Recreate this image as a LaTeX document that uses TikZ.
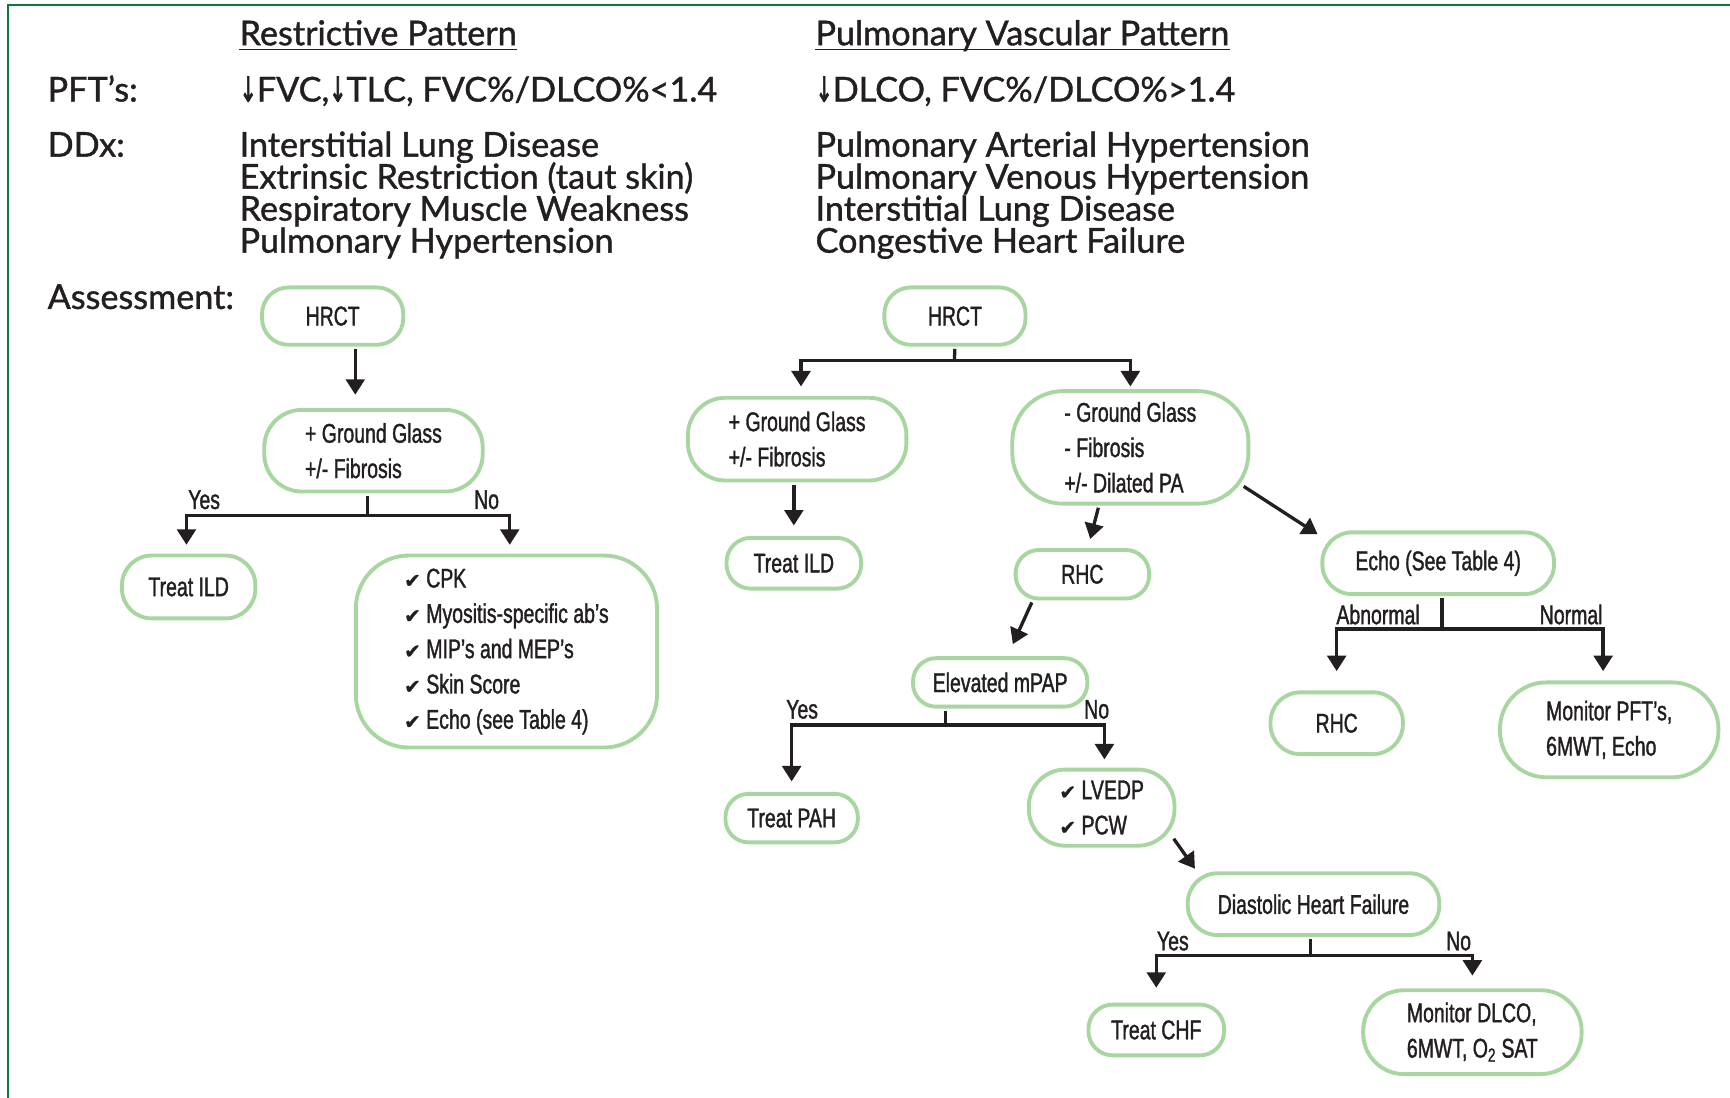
\documentclass[tikz,border=0pt]{standalone}
\usepackage{fontspec}
\setmainfont{Lato}[FakeBold=1.1]
\newfontfamily\condf{Liberation Sans}[FakeStretch=0.72,FakeBold=1.3]
\newfontfamily\djvb{DejaVu Sans}[FakeBold=1.5]
\newfontfamily\djva{DejaVu Sans}[FakeBold=3]
\usetikzlibrary{arrows.meta,calc}
\definecolor{boxgreen}{RGB}{168,214,160}
\definecolor{framegreen}{RGB}{12,122,60}
\definecolor{ink}{RGB}{35,31,32}
\newcommand\mychk{{\djvb\fontsize{18}{18}\selectfont ✔}\hspace{5pt}}
\newcommand\dnarr{\scalebox{0.6}[1]{\djva ↓}}
\tikzset{
  box/.style={draw=boxgreen, fill=white, line width=3.5pt, rounded corners=#1,
    font=\condf\fontsize{24.5}{32}\selectfont, text=ink, align=left, inner sep=0pt},
  box/.default=24pt,
  hd/.style={font=\fontsize{31}{29}\selectfont, text=ink, inner sep=0pt, anchor=base west},
  lbl/.style={font=\condf\fontsize{24.5}{24}\selectfont, text=ink, inner sep=0pt},
  ln/.style={draw=ink, line width=3pt},
  arr/.style={draw=ink, line width=3pt, -{Triangle[width=17pt,length=14pt]}},
  uline/.style={draw=ink, line width=1.5pt},
  frame/.style={draw=framegreen, line width=2.4pt}
}
\begin{document}
\begin{tikzpicture}[x=1pt,y=-1pt]
\useasboundingbox (0,0) rectangle (1568,995);
\fill[white] (0,0) rectangle (1568,995);
\draw[frame] (7.3,995) -- (7.3,4.5) -- (1568,4.5);

% headers
\node[hd] (tRes) at (217,41) {Restrictive Pattern};
\node[hd] (tPul) at (739,41) {Pulmonary Vascular Pattern};
\draw[uline] ([yshift=-4pt]tRes.base west) -- ([yshift=-4pt]tRes.base east);
\draw[uline] ([yshift=-4pt]tPul.base west) -- ([yshift=-4pt]tPul.base east);
\node[hd] (pft) at (43,92) {PFT’s:};
\node[hd] (pftL) at (217,92) {\dnarr FVC,\dnarr TLC, FVC\%/DLCO\%<1.4};
\node[hd] (pftR) at (739,92) {\dnarr DLCO, FVC\%/DLCO\%>1.4};
\node[hd] (ddx) at (43,142) {DDx:};
\node[hd] (dl1) at (217,142) {Interstitial Lung Disease};
\node[hd] (dl2) at (217,171) {Extrinsic Restriction (taut skin)};
\node[hd] (dl3) at (217,200) {Respiratory Muscle Weakness};
\node[hd] (dl4) at (217,229) {Pulmonary Hypertension};
\node[hd] (dr1) at (739,142) {Pulmonary Arterial Hypertension};
\node[hd] (dr2) at (739,171) {Pulmonary Venous Hypertension};
\node[hd] (dr3) at (739,200) {Interstitial Lung Disease};
\node[hd] (dr4) at (739,229) {Congestive Heart Failure};
\node[hd] (asm) at (43,280) {Assessment:};

% left tree
\node[box=24pt, minimum width=128pt, minimum height=52pt] (hrctL) at (301.5,286.5) {HRCT};
\node[box=34pt, minimum width=198pt, minimum height=74pt] (ggL) at (338.5,408.5) {+ Ground Glass\\+/- Fibrosis};
\node[box=27pt, minimum width=121pt, minimum height=57pt] (ildL) at (171,532) {Treat ILD};
\node[box=48pt, minimum width=273pt, minimum height=174pt] (chkL) at (459,590.5)
  {\mychk CPK\\\mychk Myositis-specific ab’s\\\mychk MIP’s and MEP’s\\\mychk Skin Score\\\mychk Echo (see Table 4)};

\draw[arr, shorten <=2pt, shorten >=12pt] ([xshift=20.5pt]hrctL.south) -- ([xshift=20.5pt]hrctL.south |- ggL.north);
\coordinate (bL) at (333,467);
\draw[ln, shorten <=2pt] (ggL.south -| bL) -- (bL);
\draw[arr, shorten >=8pt] (bL) -| ([xshift=-2pt]ildL.north);
\draw[arr, shorten >=8pt] (bL) -| ([xshift=3pt]chkL.north);
\node[lbl] (yL) at (185,453) {Yes};
\node[lbl] (nL) at (441,453) {No};

% right tree
\node[box=24pt, minimum width=128pt, minimum height=52pt] (hrctR) at (865.5,286.5) {HRCT};
\node[box=34pt, minimum width=198pt, minimum height=75pt] (ggR) at (722.5,398) {+ Ground Glass\\+/- Fibrosis};
\node[box=22pt, minimum width=122pt, minimum height=46pt] (ildR) at (719.5,510.5) {Treat ILD};
\node[box=46pt, minimum width=214pt, minimum height=102pt] (ngg) at (1024.5,405.5) {- Ground Glass\\- Fibrosis\\+/- Dilated PA};
\node[box=21pt, minimum width=121pt, minimum height=44pt] (rhc1) at (981,520.5) {RHC};
\node[box=27pt, minimum width=210pt, minimum height=56pt] (echo) at (1303.5,510.5) {Echo (See Table 4)};
\node[box=27pt, minimum width=120pt, minimum height=56pt] (rhc2) at (1211.5,655.5) {RHC};
\node[box=42pt, minimum width=198pt, minimum height=86pt] (monP) at (1458.5,661.5) {Monitor PFT’s,\\6MWT, Echo};
\node[box=21pt, minimum width=158pt, minimum height=44pt] (mpap) at (906.5,618.5) {Elevated mPAP};
\node[box=21pt, minimum width=120pt, minimum height=44pt] (pah) at (717.5,741.5) {Treat PAH};
\node[box=33pt, minimum width=132pt, minimum height=69pt] (lvedp) at (998.5,732) {\mychk LVEDP\\\mychk PCW};
\node[box=27pt, minimum width=228pt, minimum height=56pt] (dhf) at (1190.5,819.5) {Diastolic Heart Failure};
\node[box=22pt, minimum width=123pt, minimum height=46pt] (chf) at (1048,933.5) {Treat CHF};
\node[box=37pt, minimum width=198pt, minimum height=76pt] (monD) at (1334.5,935.5) {Monitor DLCO,\\6MWT, O\textsubscript{2} SAT};

\coordinate (bR) at (865,327);
\draw[ln, shorten <=2pt] (hrctR.south) -- (bR);
\draw[arr, shorten >=8.5pt] (bR) -| ([xshift=3.5pt]ggR.north);
\draw[arr, shorten >=2.5pt] (bR) -| (ngg.north);
\draw[arr, shorten <=2pt, shorten >=9.5pt] (ggR.south -| ildR.north) -- (ildR.north);
\draw[arr, shorten <=2pt, shorten >=8.5pt] ([xshift=-28.5pt]ngg.south) -- ([xshift=5pt]rhc1.north);
\draw[arr, shorten >=3pt] ([xshift=-6pt]ngg.-18) -- (echo.167);
\draw[arr, shorten <=2pt, shorten >=12pt] ([xshift=-45pt]rhc1.south) -- ([xshift=6.5pt]mpap.north);

\coordinate (bM) at (857,657);
\draw[ln, shorten <=2pt] (mpap.south -| bM) -- (bM);
\draw[arr, shorten >=9.5pt] (bM) -| (pah.north);
\draw[arr, shorten >=7.5pt] (bM) -| ([xshift=2.5pt]lvedp.north);
\node[lbl] (yM) at (727,643) {Yes};
\node[lbl] (nM) at (994,643) {No};

\draw[arr, shorten <=1pt, shorten >=3pt] ([xshift=-3pt]lvedp.-22) -- ([xshift=10pt]dhf.north west);

\coordinate (bE) at (1307,570);
\draw[ln, shorten <=2pt] (echo.south -| bE) -- (bE);
\draw[arr, shorten >=17.5pt] (bE) -| (rhc2.north);
\draw[arr, shorten >=8.5pt] (bE) -| ([xshift=-5.5pt]monP.north);
\node[lbl] (ab) at (1249,557) {Abnormal};
\node[lbl] (nm) at (1424,557) {Normal};

\coordinate (bD) at (1188,866);
\draw[ln, shorten <=2pt] (dhf.south -| bD) -- (bD);
\draw[arr, shorten >=13.5pt] (bD) -| (chf.north);
\draw[arr, shorten >=11.5pt] (bD) -| (monD.north);
\node[lbl] (yD) at (1063,853) {Yes};
\node[lbl] (nD) at (1322,853) {No};
\end{tikzpicture}
\end{document}
